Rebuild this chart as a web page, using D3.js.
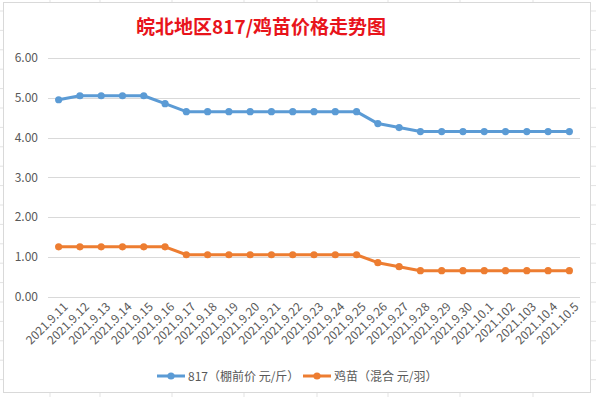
<!DOCTYPE html>
<html>
<head>
<meta charset="utf-8">
<script src="https://cdn.jsdelivr.net/npm/d3@7"></script>
<style>
  body { margin: 0; background: #fff; }
  text { font-family: "Microsoft YaHei", "Noto Sans CJK SC", "DejaVu Sans", sans-serif; }
</style>
</head>
<body>
<div id="chart"></div>
<script>
// categories (x axis labels, as shown)
var dates = ["2021.9.11", "2021.9.12", "2021.9.13", "2021.9.14", "2021.9.15", "2021.9.16",
    "2021.9.17", "2021.9.18", "2021.9.19", "2021.9.20", "2021.9.21", "2021.9.22", "2021.9.23",
    "2021.9.24", "2021.9.25", "2021.9.26", "2021.9.27", "2021.9.28", "2021.9.29", "2021.9.30",
    "2021.10.1", "2021.102", "2021.103", "2021.10.4", "2021.10.5"];

// 817 (棚前价 元/斤)
var price817 = [4.95, 5.05, 5.05, 5.05, 5.05, 4.85, 4.65, 4.65, 4.65, 4.65, 4.65, 4.65, 4.65,
    4.65, 4.65, 4.35, 4.25, 4.15, 4.15, 4.15, 4.15, 4.15, 4.15, 4.15, 4.15];

// 鸡苗 (混合 元/羽)
var priceChick = [1.25, 1.25, 1.25, 1.25, 1.25, 1.25, 1.05, 1.05, 1.05, 1.05, 1.05, 1.05, 1.05,
    1.05, 1.05, 0.85, 0.75, 0.65, 0.65, 0.65, 0.65, 0.65, 0.65, 0.65, 0.65];

var yTicks = [0, 1, 2, 3, 4, 5, 6];
var seriesNames = ["817（棚前价 元/斤）", "鸡苗（混合 元/羽）"];
var seriesColors = ["#5B9BD5", "#ED7D31"];
var title = "皖北地区817/鸡苗价格走势图";

var W = 596, H = 397;
var margin = { top: 58, right: 16, bottom: 100.5, left: 48 };
var width = W - margin.left - margin.right,
    height = H - margin.top - margin.bottom;

var svg = d3.select("#chart").append("svg")
    .attr("width", W)
    .attr("height", H);

// spreadsheet cells behind the chart object
var colLines = [50, 100, 172, 244, 317, 388, 460, 533];
var rowLines = d3.range(11, H, 19.4);
svg.append("g").selectAll("line.col").data(colLines).enter().append("line")
    .attr("x1", function(d){ return d; }).attr("x2", function(d){ return d; })
    .attr("y1", 0).attr("y2", H)
    .attr("stroke", "#e3e3e3");
svg.append("g").selectAll("line.row").data(rowLines).enter().append("line")
    .attr("x1", 0).attr("x2", W)
    .attr("y1", function(d){ return d; }).attr("y2", function(d){ return d; })
    .attr("stroke", "#e3e3e3");

// chart area
svg.append("rect")
    .attr("x", 3.5).attr("y", 2.5)
    .attr("width", 587).attr("height", 390)
    .attr("fill", "#fff")
    .attr("stroke", "#d9d9d9");

// title
svg.append("text")
    .attr("x", 261).attr("y", 34)
    .attr("text-anchor", "middle")
    .attr("fill", "#E8141B")
    .style("font-size", "19px")
    .style("font-weight", "bold")
    .text(title);

var g = svg.append("g")
    .attr("transform", "translate(" + margin.left + "," + margin.top + ")");

var x = d3.scaleBand()
    .domain(dates)
    .range([0, width]);

var y = d3.scaleLinear()
    .domain([0, 6])
    .range([height, 0]);

// gridlines
g.append("g")
    .selectAll("line").data(yTicks).enter().append("line")
    .attr("x1", 0).attr("x2", width)
    .attr("y1", function(d){ return Math.round(y(d)) + 0.5; })
    .attr("y2", function(d){ return Math.round(y(d)) + 0.5; })
    .attr("stroke", "#d9d9d9");

// y axis
var yAxis = d3.axisLeft(y)
    .tickValues(yTicks)
    .tickFormat(d3.format(".2f"))
    .tickSize(0)
    .tickPadding(10);
g.append("g")
    .attr("class", "y-axis")
    .call(yAxis)
    .call(function(sel){ sel.select(".domain").remove(); })
    .selectAll("text")
    .attr("fill", "#595959")
    .style("font-size", "12px");

// x axis
var xAxis = d3.axisBottom(x).tickSize(0);
g.append("g")
    .attr("class", "x-axis")
    .attr("transform", "translate(0," + height + ")")
    .call(xAxis)
    .call(function(sel){ sel.select(".domain").remove(); })
    .selectAll("text")
    .attr("fill", "#595959")
    .style("font-size", "12px")
    .attr("text-anchor", "end")
    .attr("dx", 0).attr("dy", 0)
    .attr("transform", "translate(8,9) rotate(-45)");

var cx = function(d, i){ return x(dates[i]) + x.bandwidth() / 2; };
var line = d3.line()
    .x(cx)
    .y(function(d){ return y(d); });

[price817, priceChick].forEach(function(vals, k){
    var s = g.append("g").attr("class", "series");
    s.append("path")
        .datum(vals)
        .attr("fill", "none")
        .attr("stroke", seriesColors[k])
        .attr("stroke-width", 3)
        .attr("stroke-linejoin", "round")
        .attr("d", line);
    s.selectAll("circle").data(vals).enter().append("circle")
        .attr("cx", cx)
        .attr("cy", function(d){ return y(d); })
        .attr("r", 3.6)
        .attr("fill", seriesColors[k]);
});

// legend
var legendX = [157, 303];
var legend = svg.append("g").attr("class", "legend");
seriesNames.forEach(function(name, k){
    var lg = legend.append("g").attr("transform", "translate(" + legendX[k] + ",376)");
    lg.append("line")
        .attr("x1", 0).attr("x2", 28)
        .attr("stroke", seriesColors[k])
        .attr("stroke-width", 3);
    lg.append("circle")
        .attr("cx", 14).attr("r", 3.6)
        .attr("fill", seriesColors[k]);
    lg.append("text")
        .attr("x", 31).attr("y", 4.5)
        .attr("fill", "#595959")
        .style("font-size", "12px")
        .text(name);
});
</script>
</body>
</html>
